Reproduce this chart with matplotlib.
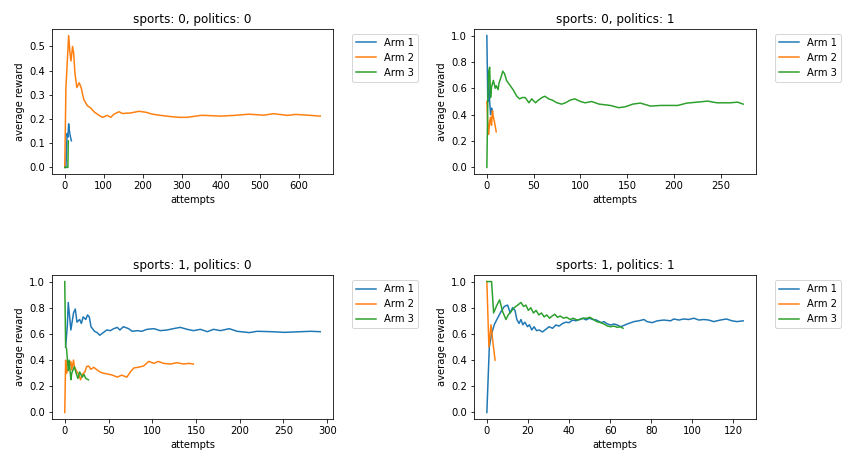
import matplotlib
matplotlib.use("Agg")
import matplotlib.pyplot as plt

# sports 0, politics 0
s0p0_arm1_x = [0, 3, 6, 8, 10, 12, 14, 17]
s0p0_arm1_y = [0.0, 0.0, 0.14, 0.125, 0.18, 0.15, 0.13, 0.11]
s0p0_arm2_x = [0, 3, 10, 13, 16, 20, 23, 26, 31, 37, 42, 49, 58, 67, 75, 88, 97, 109, 118, 126,
               139, 148, 169, 190, 208, 225, 246, 272, 293, 314, 336, 349, 358, 400, 434, 472, 510, 536, 571, 592,
               631, 655]
s0p0_arm2_y = [0.0, 0.33, 0.545, 0.48, 0.44, 0.50, 0.47, 0.39, 0.33, 0.35, 0.33, 0.28, 0.255, 0.245, 0.23, 0.215, 0.207, 0.215, 0.207, 0.22,
               0.23, 0.223, 0.225, 0.232, 0.228, 0.22, 0.215, 0.21, 0.207, 0.207, 0.212, 0.215, 0.215, 0.212, 0.215, 0.22, 0.216, 0.222, 0.215, 0.219,
               0.215, 0.212]
s0p0_arm3_x = [0, 8, 9]
s0p0_arm3_y = [0.0, 0.0, 0.11]

# sports 0, politics 1
s0p1_arm1_x = [0, 1, 2, 3, 4, 5, 6]
s0p1_arm1_y = [1.0, 0.5, 0.67, 0.5, 0.4, 0.45, 0.43]
s0p1_arm2_x = [0, 1, 2, 3, 4, 5, 6, 7, 8, 9, 10]
s0p1_arm2_y = [0.5, 0.33, 0.25, 0.35, 0.38, 0.32, 0.43, 0.38, 0.35, 0.31, 0.27]
s0p1_arm3_x = [0, 1, 2, 3, 4, 5, 7, 9, 10, 12, 13, 15, 17, 19, 21, 25, 28, 32, 35, 38,
               41, 45, 48, 52, 55, 59, 62, 66, 70, 75, 80, 84, 89, 94, 100, 105, 112, 120, 125, 132,
               141, 148, 156, 164, 175, 186, 204, 214, 225, 236, 246, 260, 268, 274]
s0p1_arm3_y = [0.0, 0.5, 0.73, 0.76, 0.53, 0.61, 0.66, 0.60, 0.62, 0.59, 0.64, 0.68, 0.73, 0.71, 0.66, 0.62, 0.59, 0.54, 0.52, 0.53,
               0.53, 0.49, 0.52, 0.49, 0.51, 0.53, 0.54, 0.52, 0.51, 0.49, 0.48, 0.49, 0.51, 0.52, 0.50, 0.49, 0.50, 0.48, 0.476, 0.47,
               0.453, 0.46, 0.48, 0.488, 0.465, 0.47, 0.47, 0.488, 0.495, 0.503, 0.49, 0.49, 0.495, 0.48]

# sports 1, politics 0
s1p0_arm1_x = [1, 3, 4, 7, 10, 12, 14, 17, 19, 21, 24, 26, 28, 30, 34, 37, 40, 44, 48, 52,
               56, 60, 63, 67, 73, 77, 83, 88, 94, 102, 109, 117, 124, 132, 140, 147, 155, 163, 170, 178,
               188, 197, 211, 220, 236, 251, 270, 281, 292]
s1p0_arm1_y = [0.5, 0.67, 0.84, 0.63, 0.76, 0.79, 0.69, 0.71, 0.68, 0.73, 0.71, 0.745, 0.73, 0.655, 0.62, 0.61, 0.59, 0.61, 0.63, 0.625,
               0.64, 0.65, 0.63, 0.655, 0.64, 0.62, 0.625, 0.62, 0.635, 0.64, 0.625, 0.63, 0.64, 0.65, 0.635, 0.625, 0.635, 0.617, 0.635, 0.625,
               0.64, 0.62, 0.61, 0.62, 0.617, 0.612, 0.617, 0.62, 0.617]
s1p0_arm2_x = [0, 1, 2, 5, 7, 8, 10, 11, 14, 16, 18, 20, 23, 25, 27, 30, 33, 37, 40, 44,
               48, 54, 60, 65, 71, 75, 79, 84, 90, 96, 102, 107, 113, 121, 128, 136, 142, 147]
s1p0_arm2_y = [0.0, 0.4, 0.30, 0.35, 0.39, 0.325, 0.40, 0.35, 0.31, 0.29, 0.25, 0.29, 0.31, 0.35, 0.355, 0.33, 0.345, 0.325, 0.31, 0.30,
               0.295, 0.286, 0.27, 0.285, 0.27, 0.31, 0.34, 0.345, 0.355, 0.39, 0.375, 0.39, 0.375, 0.37, 0.38, 0.37, 0.375, 0.37]
s1p0_arm3_x = [0, 1, 2, 4, 5, 7, 8, 11, 13, 15, 17, 20, 22, 24, 27]
s1p0_arm3_y = [1.0, 0.5, 0.49, 0.32, 0.40, 0.25, 0.30, 0.35, 0.30, 0.26, 0.31, 0.27, 0.29, 0.26, 0.25]

# sports 1, politics 1
s1p1_arm1_x = [0, 1.2, 2.3, 3.6, 5.2, 6.9, 8.5, 10.1, 11.4, 12.5, 13.7, 14.6, 15.7, 16.6, 17.5, 18.5, 19.8, 20.7, 21.9, 23,
               24.2, 25.5, 27.1, 28.7, 30.3, 32, 33.6, 35.2, 36.9, 38.5, 40, 41.8, 43.4, 45, 46.7, 48.3, 49.9, 51.6, 53.2, 55.7,
               57, 58.7, 60.3, 61.9, 63.5, 65.2, 68.4, 71.6, 74, 76.5, 78, 80.5, 83, 86.2, 89.5, 91, 93.5, 95.9, 98.3, 100.8,
               103.2, 105.6, 108, 110.5, 113.7, 116.6, 119.4, 121.8, 124.8]
s1p1_arm1_y = [0.0, 0.5, 0.6, 0.67, 0.72, 0.77, 0.81, 0.82, 0.76, 0.80, 0.78, 0.71, 0.68, 0.71, 0.67, 0.69, 0.655, 0.67, 0.63, 0.655,
               0.625, 0.63, 0.615, 0.635, 0.655, 0.643, 0.668, 0.66, 0.68, 0.69, 0.686, 0.706, 0.70, 0.71, 0.72, 0.707, 0.72, 0.71, 0.707, 0.686,
               0.694, 0.676, 0.668, 0.676, 0.668, 0.655, 0.676, 0.694, 0.70, 0.71, 0.694, 0.686, 0.70, 0.706, 0.70, 0.714, 0.706, 0.714, 0.71, 0.72,
               0.706, 0.71, 0.706, 0.694, 0.706, 0.714, 0.70, 0.694, 0.70]
s1p1_arm2_x = [0, 1, 2, 3, 4]
s1p1_arm2_y = [1.0, 0.5, 0.67, 0.53, 0.4]
s1p1_arm3_x = [0, 2.3, 3.3, 4.6, 6.2, 7.7, 9.3, 10.4, 11.7, 13.3, 15, 16.6, 17.9, 19, 20.2, 21.4, 22.7, 24, 25.3, 26.6,
               27.9, 29.2, 30.5, 31.8, 33.1, 34.4, 35.7, 37.3, 38.9, 40.5, 42.1, 43.8, 45.4, 47, 48.6, 50.2, 51.9, 53.5, 55.5, 57,
               58.7, 60.3, 61.9, 63.5, 65, 66.3]
s1p1_arm3_y = [1.0, 1.0, 0.76, 0.81, 0.86, 0.77, 0.71, 0.745, 0.77, 0.80, 0.82, 0.84, 0.81, 0.82, 0.78, 0.80, 0.76, 0.78, 0.745, 0.76,
               0.73, 0.745, 0.72, 0.737, 0.75, 0.727, 0.737, 0.72, 0.727, 0.71, 0.72, 0.707, 0.71, 0.72, 0.72, 0.727, 0.71, 0.694, 0.686, 0.676,
               0.66, 0.655, 0.66, 0.65, 0.655, 0.643]

panels = [
    ("sports: 0, politics: 0", [0.0613, 0.6176, 0.3314, 0.3187],
     [(s0p0_arm1_x, s0p0_arm1_y), (s0p0_arm2_x, s0p0_arm2_y), (s0p0_arm3_x, s0p0_arm3_y)]),
    ("sports: 0, politics: 1", [0.559, 0.6176, 0.3325, 0.3187],
     [(s0p1_arm1_x, s0p1_arm1_y), (s0p1_arm2_x, s0p1_arm2_y), (s0p1_arm3_x, s0p1_arm3_y)]),
    ("sports: 1, politics: 0", [0.0613, 0.0791, 0.3314, 0.3165],
     [(s1p0_arm1_x, s1p0_arm1_y), (s1p0_arm2_x, s1p0_arm2_y), (s1p0_arm3_x, s1p0_arm3_y)]),
    ("sports: 1, politics: 1", [0.559, 0.0791, 0.3325, 0.3165],
     [(s1p1_arm1_x, s1p1_arm1_y), (s1p1_arm2_x, s1p1_arm2_y), (s1p1_arm3_x, s1p1_arm3_y)]),
]

# the original reads like a 72 dpi render
DPI = 72
fig = plt.figure(figsize=(848 / DPI, 455 / DPI), dpi=DPI)

for title, rect, arms in panels:
    ax = fig.add_axes(rect)
    for i, (x, y) in enumerate(arms):
        ax.plot(x, y, label=f"Arm {i + 1}")
    ax.set_title(title)
    ax.set_xlabel("attempts")
    ax.set_ylabel("average reward")
    ax.legend(loc="upper left", bbox_to_anchor=(1.05, 1))

fig.savefig("out.png", dpi=DPI)
